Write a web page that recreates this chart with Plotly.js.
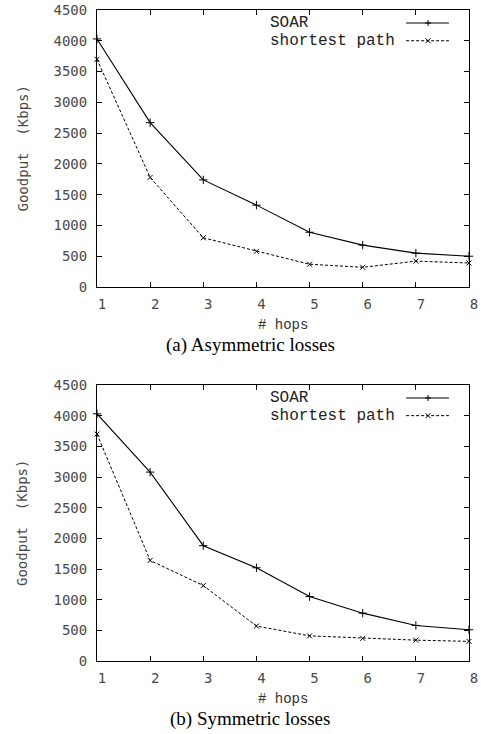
<!DOCTYPE html>
<html>
<head>
<meta charset="utf-8">
<script src="https://cdn.plot.ly/plotly-3.0.1.min.js"></script>
<style>html,body{margin:0;padding:0;background:#fff;}</style>
</head>
<body>
<div id="chart" style="width:481px;height:734px;"></div>
<script>
// ---- data ----
const hops = [1, 2, 3, 4, 5, 6, 7, 8];
const soarAsym = [4030, 2670, 1740, 1330, 890, 680, 550, 500];
const shortAsym = [3700, 1780, 800, 580, 370, 320, 420, 390];
const soarSym = [4030, 3080, 1880, 1520, 1050, 780, 580, 510];
const shortSym = [3700, 1640, 1230, 570, 410, 370, 340, 320];
const seriesNames = ["SOAR", "shortest path"];
const captions = ["(a) Asymmetric losses", "(b) Symmetric losses"];
const xTitle = "# hops";
const yTitle = "Goodput  (Kbps)";

// ---- layout helpers (pixel geometry) ----
const W = 481, H = 734;
const px = v => v / W;
const py = v => (H - v) / H;

const solidLine = {color: "#000", width: 1.1};
const dashLine = {color: "#000", width: 1, dash: "3px,2px"};
const plusMarker = {symbol: "cross-thin", size: 6, line: {color: "#000", width: 1}, color: "#000"};
const xMarker = {symbol: "x-thin", size: 5, line: {color: "#000", width: 1}, color: "#000"};

function pair(soar, shortp, xa, ya) {
  return [
    {x: hops, y: soar, xaxis: xa, yaxis: ya, mode: "lines+markers", name: seriesNames[0],
     line: solidLine, marker: plusMarker, cliponaxis: false, showlegend: false},
    {x: hops, y: shortp, xaxis: xa, yaxis: ya, mode: "lines+markers", name: seriesNames[1],
     line: dashLine, marker: xMarker, cliponaxis: false, showlegend: false}
  ];
}

const data = [].concat(pair(soarAsym, shortAsym, "x", "y"), pair(soarSym, shortSym, "x2", "y2"));

const tickFont = {family: "DejaVu Sans Mono", size: 14, color: "#4a4a4a"};
function xAxis(anchor) {
  return {domain: [px(97), px(469)], anchor: anchor, range: [1, 8], tickvals: hops,
    ticks: "inside", ticklen: 5, tickcolor: "#000", mirror: "ticks", showline: true,
    linecolor: "#000", linewidth: 1, showgrid: false, zeroline: false,
    tickfont: tickFont, ticklabelshift: 5, ticklabelstandoff: 4, fixedrange: true};
}
function yAxis(anchor, top, bottom) {
  return {domain: [py(bottom), py(top)], anchor: anchor, range: [0, 4500], dtick: 500,
    ticks: "inside", ticklen: 5, tickcolor: "#000", mirror: "ticks", showline: true,
    linecolor: "#000", linewidth: 1, showgrid: false, zeroline: false,
    tickfont: tickFont, ticklabelstandoff: 6, fixedrange: true};
}

const annotations = [];
const shapes = [];
function addDecor(xa, ya, top, bottom, caption) {
  const mid = (top + bottom) / 2;
  annotations.push({xref: "paper", yref: "paper", x: px(22), y: py(mid), text: yTitle, textangle: -90,
    showarrow: false, xanchor: "center", yanchor: "middle",
    font: {family: "DejaVu Sans Mono", size: 14, color: "#4a4a4a"}});
  annotations.push({xref: "paper", yref: "paper", x: px(283), y: py(bottom + 38), text: xTitle,
    showarrow: false, xanchor: "center", yanchor: "middle",
    font: {family: "Liberation Mono", size: 14, color: "#333"}});
  annotations.push({xref: "paper", yref: "paper", x: px(250), y: py(bottom + 58), text: caption,
    showarrow: false, xanchor: "center", yanchor: "middle",
    font: {family: "Liberation Serif", size: 19, color: "#000"}});
  // legend (gnuplot style: text, then sample on the right)
  const xd = xa + " domain", yd = ya + " domain";
  const rows = [{name: seriesNames[0], dy: 0.953, line: solidLine, sym: "+"},
                {name: seriesNames[1], dy: 0.889, line: dashLine, sym: "x"}];
  const hpx = bottom - top, wpx = 372;
  rows.forEach(r => {
    annotations.push({xref: xd, yref: yd, x: 0.46, y: r.dy, text: r.name, showarrow: false,
      xanchor: "left", yanchor: "middle",
      font: {family: "Liberation Mono", size: 16, color: "#222"}});
    shapes.push({type: "line", xref: xd, yref: yd, x0: 0.831, x1: 0.946, y0: r.dy, y1: r.dy,
      line: {color: "#000", width: r.line.width, dash: r.line.dash === undefined ? "solid" : r.line.dash}});
    const cx = 0.89, cy = r.dy, sx = 3 / wpx, sy = 3 / hpx;
    let path;
    if (r.sym === "+") {
      path = `M${cx - sx},${cy} L${cx + sx},${cy} M${cx},${cy - sy} L${cx},${cy + sy}`;
    } else {
      const ax = 2.5 / wpx, ay = 2.5 / hpx;
      path = `M${cx - ax},${cy - ay} L${cx + ax},${cy + ay} M${cx - ax},${cy + ay} L${cx + ax},${cy - ay}`;
    }
    shapes.push({type: "path", xref: xd, yref: yd, path: path, line: {color: "#000", width: 1}});
  });
}
addDecor("x", "y", 10, 287, captions[0]);
addDecor("x2", "y2", 385, 661, captions[1]);

const layout = {
  width: W, height: H, margin: {l: 0, r: 0, t: 0, b: 0},
  paper_bgcolor: "#fff", plot_bgcolor: "#fff", showlegend: false,
  xaxis: xAxis("y"), yaxis: yAxis("x", 10, 287),
  xaxis2: xAxis("y2"), yaxis2: yAxis("x2", 385, 661),
  annotations: annotations, shapes: shapes
};

Plotly.newPlot("chart", data, layout, {staticPlot: true, displayModeBar: false});
</script>
</body>
</html>
